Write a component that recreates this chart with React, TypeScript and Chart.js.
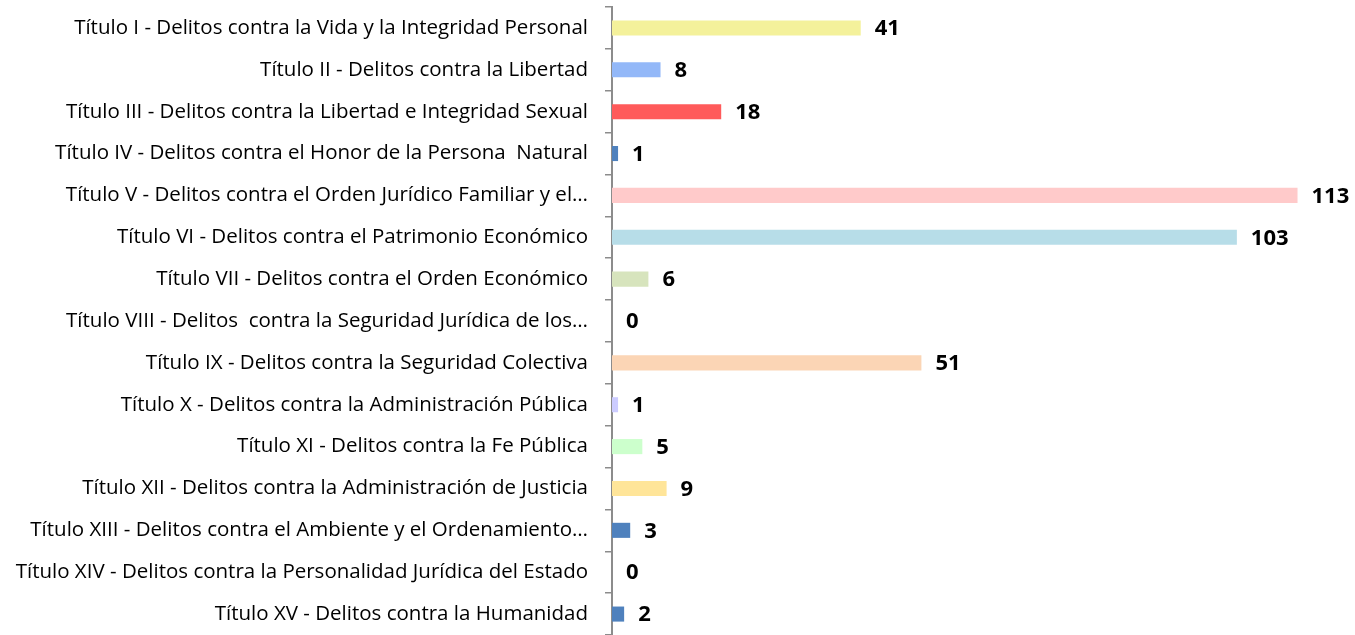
import React, { useEffect, useRef } from "react";
import { Chart, registerables } from "chart.js";

Chart.register(...registerables);

const categories: string[] = [
  "Título I - Delitos contra la Vida y la Integridad Personal",
  "Título II - Delitos contra la Libertad",
  "Título III - Delitos contra la Libertad e Integridad Sexual",
  "Título IV - Delitos contra el Honor de la Persona  Natural",
  "Título V - Delitos contra el Orden Jurídico Familiar y el…",
  "Título VI - Delitos contra el Patrimonio Económico",
  "Título VII - Delitos contra el Orden Económico",
  "Título VIII - Delitos  contra la Seguridad Jurídica de los…",
  "Título IX - Delitos contra la Seguridad Colectiva",
  "Título X - Delitos contra la Administración Pública",
  "Título XI - Delitos contra la Fe Pública",
  "Título XII - Delitos contra la Administración de Justicia",
  "Título XIII - Delitos contra el Ambiente y el Ordenamiento…",
  "Título XIV - Delitos contra la Personalidad Jurídica del Estado",
  "Título XV - Delitos contra la Humanidad",
];

const values: number[] = [41, 8, 18, 1, 113, 103, 6, 0, 51, 1, 5, 9, 3, 0, 2];

const barColors: string[] = [
  "#F4F19B",
  "#93B8F8",
  "#FF5A5A",
  "#4F81BD",
  "#FFCACA",
  "#B7DDE8",
  "#D7E4BD",
  "#4F81BD",
  "#FBD5B5",
  "#CCCCFF",
  "#CCFFCC",
  "#FFE599",
  "#4F81BD",
  "#4F81BD",
  "#4F81BD",
];

const valueLabelPlugin = {
  id: "valueLabels",
  afterDatasetsDraw(chart: any) {
    const ctx = chart.ctx;
    const meta = chart.getDatasetMeta(0);
    ctx.save();
    ctx.font = "bold 22px 'Open Sans'";
    ctx.fillStyle = "#000";
    ctx.textAlign = "left";
    ctx.textBaseline = "middle";
    meta.data.forEach((bar: any, i: number) => {
      ctx.fillText(String(values[i]), bar.x + 14, bar.y + 1);
    });
    ctx.restore();
  },
};

export default function App() {
  const canvasRef = useRef<HTMLCanvasElement | null>(null);

  useEffect(() => {
    if (!canvasRef.current) return;
    const chart = new Chart(canvasRef.current, {
      type: "bar",
      data: {
        labels: categories,
        datasets: [
          {
            data: values,
            backgroundColor: barColors,
            borderWidth: 0,
            barPercentage: 0.36,
            categoryPercentage: 1,
          },
        ],
      },
      options: {
        indexAxis: "y",
        animation: false,
        responsive: false,
        maintainAspectRatio: false,
        layout: { padding: { top: 7, bottom: 0, left: 0, right: 15 } },
        plugins: {
          legend: { display: false },
          tooltip: { enabled: false },
        },
        scales: {
          x: {
            display: false,
            min: 0,
            max: 120,
          },
          y: {
            afterFit: (scale: any) => {
              scale.width = 612;
              scale.paddingTop = 0;
              scale.paddingBottom = 0;
            },
            border: { display: true, color: "#8C8C8C", width: 2 },
            grid: {
              offset: true,
              drawOnChartArea: false,
              drawTicks: true,
              tickLength: 7,
              color: "#8C8C8C",
              lineWidth: 1.5,
            },
            ticks: {
              autoSkip: false,
              padding: 17,
              color: "#000",
              font: { family: "'Open Sans'", size: 20.5 },
            },
          },
        },
      },
      plugins: [valueLabelPlugin],
    });
    return () => chart.destroy();
  }, []);

  return (
    <div style={{ position: "fixed", left: 0, top: 0, width: 1355, height: 635, background: "#fff" }}>
      <canvas ref={canvasRef} width={1355} height={635} style={{ display: "block" }} />
    </div>
  );
}
